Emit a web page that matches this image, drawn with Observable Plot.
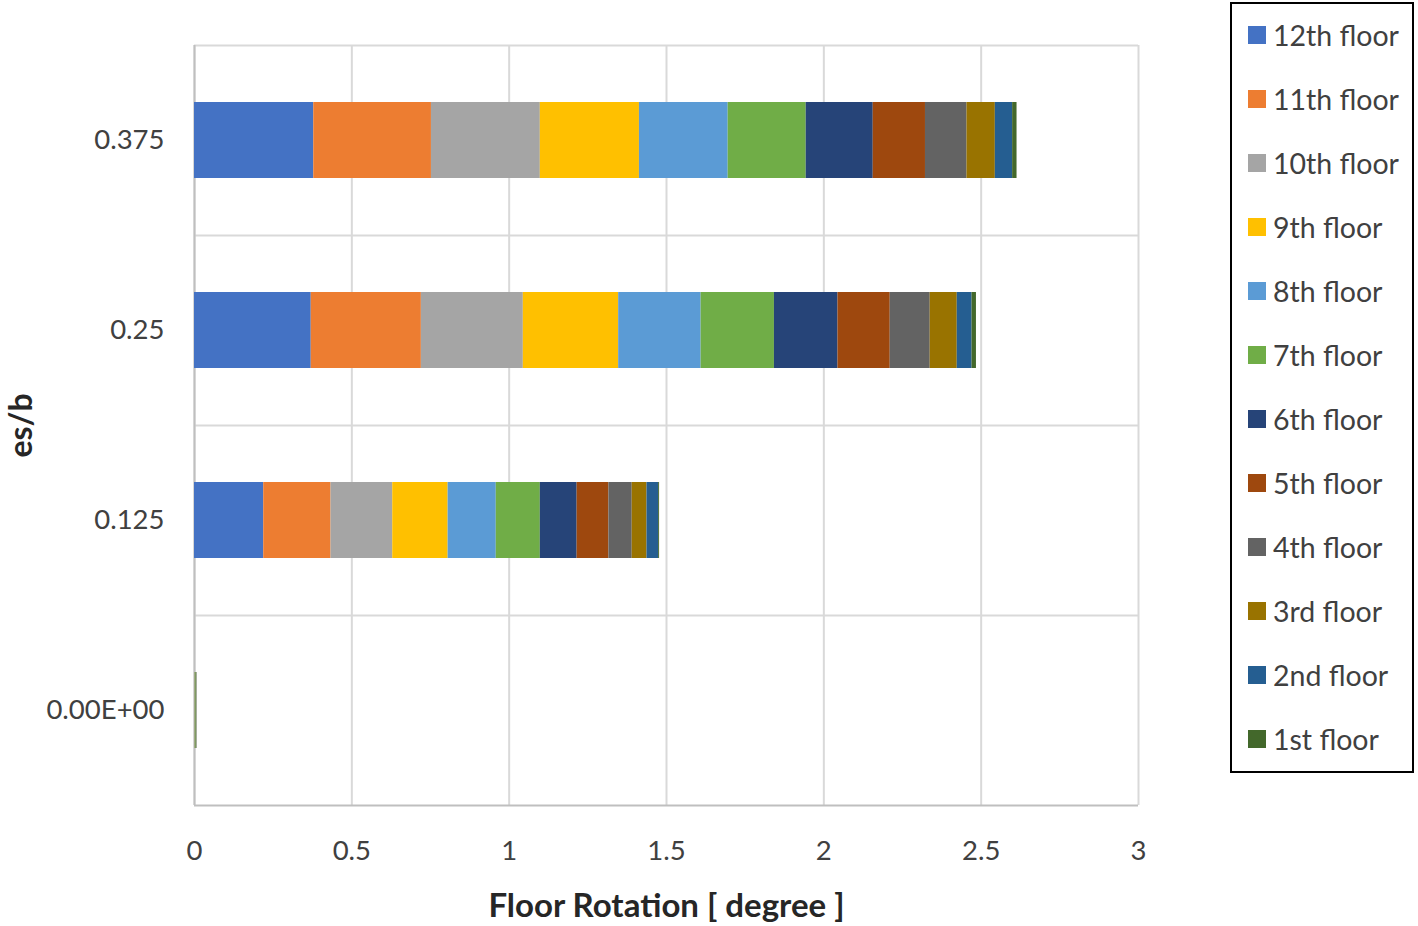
<!DOCTYPE html>
<html><head><meta charset="utf-8">
<script src="https://cdn.jsdelivr.net/npm/d3@7"></script>
<script src="https://cdn.jsdelivr.net/npm/@observablehq/plot@0.6"></script>
<style>
body{margin:0;background:#fff;font-family:Lato,"Open Sans",sans-serif;}
#wrap{position:relative;width:1418px;height:926px;}
#legend{position:absolute;left:1230px;top:2px;width:180px;height:767px;border:2px solid #000;box-sizing:content-box;}
.li{position:absolute;left:16px;display:flex;align-items:center;font-size:28.5px;color:#404040;white-space:nowrap;}
.sw{width:18px;height:18px;margin-right:7px;}
</style></head><body>
<div id="wrap"><div id="chart"></div><div id="legend"></div></div>
<script>
const categories = ["0.375", "0.25", "0.125", "0.00E+00"];
const floors = ["12th floor","11th floor","10th floor","9th floor","8th floor","7th floor","6th floor","5th floor","4th floor","3rd floor","2nd floor","1st floor"];
const colors = ["#4472C4","#ED7D31","#A5A5A5","#FFC000","#5B9BD5","#70AD47","#264478","#9E480E","#636363","#997300","#255E91","#43682B"];
// rotation contribution of each floor (degree), per es/b
const v0375 = [0.379,0.374,0.346,0.315,0.282,0.248,0.213,0.166,0.132,0.090,0.055,0.014];
const v025  = [0.371,0.350,0.324,0.303,0.262,0.233,0.202,0.166,0.127,0.086,0.047,0.014];
const v0125 = [0.220,0.214,0.196,0.176,0.153,0.140,0.117,0.101,0.074,0.047,0.037,0.003];
const v0    = [0.0005,0.0005,0.0005,0.0005,0.0005,0.003,0.0005,0.0005,0.0005,0.0005,0.0005,0.0005];
const xTicks = [0,0.5,1,1.5,2,2.5,3];

const series = [v0375, v025, v0125, v0];
const data = [];
categories.forEach((c,i)=>floors.forEach((f,j)=>data.push({esb:c, floor:f, value:series[i][j]})));

const W=1418,H=926, mL=194, mR=280, mT=45, mB=121;
const step = (H-mT-mB)/categories.length;
const grid = "#d9d9d9";
const chart = Plot.plot({
  width:W, height:H, marginLeft:mL, marginRight:mR, marginTop:mT, marginBottom:mB,
  style:{fontFamily:"Lato, 'Open Sans', sans-serif", fontSize:"27px", color:"#404040", background:"#fff"},
  x:{domain:[0,3], ticks:xTicks, tickFormat:d=>String(d), label:null},
  y:{domain:categories, padding:0.6, paddingOuter:0.3, label:null},
  color:{domain:floors, range:colors},
  marks:[
    Plot.ruleX(xTicks, {stroke:grid, strokeWidth:2}),
    Plot.ruleY(categories, {y:d=>d, dy:-step/2, stroke:grid, strokeWidth:2}),
    Plot.ruleY([categories[categories.length-1]], {y:d=>d, dy:step/2, stroke:"#bfbfbf", strokeWidth:2}),
    Plot.ruleX([0], {stroke:"#bfbfbf", strokeWidth:2}),
    Plot.barX(data, Plot.stackX({x:"value", y:"esb", fill:"floor", z:"floor", order:floors})),
    Plot.axisX({ticks:xTicks, tickFormat:d=>String(d), tickSize:0, tickPadding:35, fontSize:27.5, label:null}),
    Plot.axisY({tickSize:0, tickPadding:30, fontSize:27.5, label:null}),
    Plot.text(["Floor Rotation [ degree ]"], {frameAnchor:"bottom", dy:mB-10, fontWeight:"bold", fontSize:33, fill:"#262626"}),
    Plot.text(["es/b"], {frameAnchor:"left", textAnchor:"middle", dx:-(mL-21), rotate:-90, fontWeight:"bold", fontSize:32, fill:"#262626"})
  ]
});
document.getElementById("chart").appendChild(chart);

const lg = document.getElementById("legend");
floors.forEach((f,i)=>{
  const d=document.createElement("div"); d.className="li";
  d.style.top=(33+i*64-19)+"px";
  d.innerHTML=`<span class="sw" style="background:${colors[i]}"></span><span>${f}</span>`;
  lg.appendChild(d);
});
</script></body></html>
